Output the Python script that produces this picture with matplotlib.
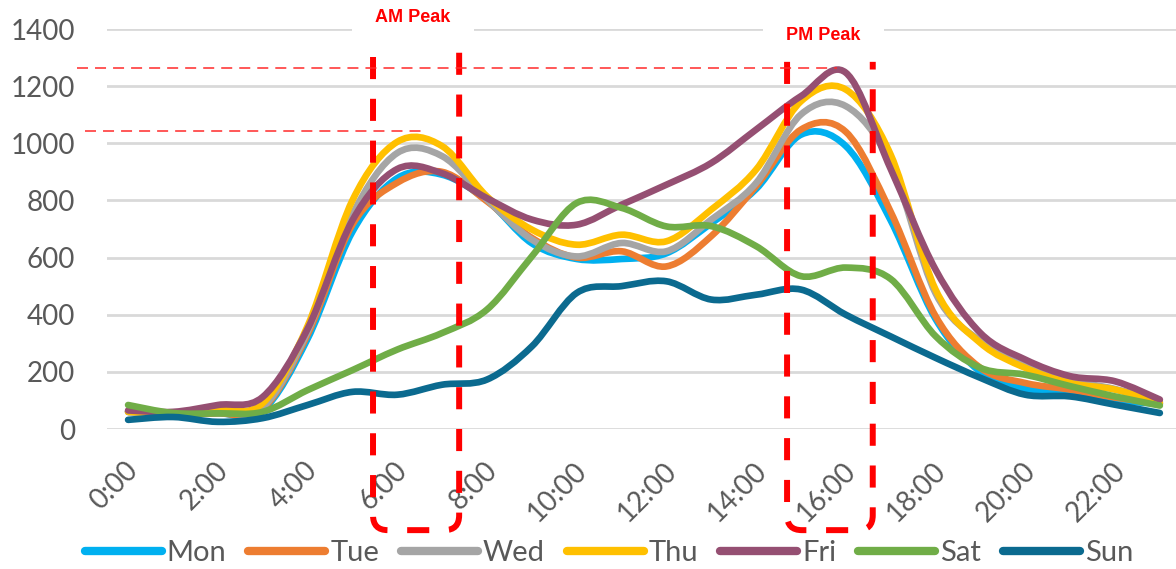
import matplotlib
matplotlib.use('Agg')
import matplotlib.pyplot as plt
from matplotlib.path import Path
from matplotlib.patches import PathPatch
from matplotlib.lines import Line2D
from matplotlib.transforms import ScaledTranslation

plt.rcParams['font.family'] = ['Lato', 'DejaVu Sans']

# hourly counts
hours = list(range(24))
tick_hours = list(range(0, 24, 2))
tick_labels = ['%d:00' % h for h in tick_hours]

mon = [60, 55, 55, 65, 315, 690, 878, 890, 800, 650, 595, 595, 615, 720, 840, 1030, 990, 730, 385, 200, 140, 125, 100, 88]
tue = [60, 55, 55, 70, 330, 715, 862, 900, 797, 669, 600, 622, 569, 675, 850, 1048, 1040, 760, 395, 214, 161, 138, 110, 90]
wed = [60, 55, 60, 75, 340, 750, 966, 955, 803, 663, 604, 651, 622, 733, 861, 1101, 1130, 930, 475, 307, 220, 170, 140, 95]
thu = [60, 55, 67, 90, 360, 800, 1005, 990, 814, 698, 645, 680, 657, 768, 908, 1147, 1188, 960, 488, 301, 214, 161, 138, 91]
fri = [65, 60, 84, 112, 350, 730, 910, 895, 808, 733, 715, 785, 855, 931, 1048, 1165, 1247, 910, 558, 336, 243, 185, 167, 103]
sat = [84, 56, 55, 60, 136, 206, 278, 336, 418, 604, 791, 774, 709, 710, 640, 535, 565, 525, 325, 214, 190, 150, 114, 82]
sun = [32, 42, 25, 38, 84, 130, 120, 155, 173, 289, 476, 500, 517, 453, 470, 488, 400, 324, 249, 179, 120, 114, 85, 56]

days = ['Mon', 'Tue', 'Wed', 'Thu', 'Fri', 'Sat', 'Sun']
series = [mon, tue, wed, thu, fri, sat, sun]
colors = ['#00B0F0', '#ED7D31', '#A5A5A5', '#FFC000', '#954F72', '#70AD47', '#0B6A8F']

# peak markers (annotation geometry, data units)
am_box = (5.46, 7.38, 1302, 1337)   # x left, x right, top left, top right
pm_box = (14.69, 16.60, 1285, 1285)
box_bottom = -354
peak_refs = [(1263, -1.14, 15.80), (1043, -0.96, 6.62)]


def smooth_path(x, y):
    # excel-like smoothed line: catmull-rom segments as cubic beziers
    n = len(x)
    verts = [(x[0], y[0])]
    codes = [Path.MOVETO]
    for i in range(n - 1):
        i0 = max(i - 1, 0)
        i3 = min(i + 2, n - 1)
        c1 = (x[i] + (x[i + 1] - x[i0]) / 6, y[i] + (y[i + 1] - y[i0]) / 6)
        c2 = (x[i + 1] - (x[i3] - x[i]) / 6, y[i + 1] - (y[i3] - y[i]) / 6)
        verts += [c1, c2, (x[i + 1], y[i + 1])]
        codes += [Path.CURVE4] * 3
    return Path(verts, codes)


def bracket_path(xl, xr, top_l, top_r, bottom, rx=0.33, ry=52):
    verts = [(xl, top_l), (xl, bottom + ry), (xl, bottom), (xl + rx, bottom),
             (xr - rx, bottom), (xr, bottom), (xr, bottom + ry), (xr, top_r)]
    codes = [Path.MOVETO, Path.LINETO, Path.CURVE3, Path.CURVE3,
             Path.LINETO, Path.CURVE3, Path.CURVE3, Path.LINETO]
    return Path(verts, codes)


fig = plt.figure(figsize=(11.76, 5.69), dpi=100)
ax = fig.add_axes([107 / 1176, 140 / 569, 1069 / 1176, 400 / 569])

for vals, c in zip(series, colors):
    ax.add_patch(PathPatch(smooth_path(hours, vals), fill=False, edgecolor=c,
                           lw=4.8, capstyle='round', joinstyle='round', zorder=3))

ax.set_xlim(-0.47, 23.36)
ax.set_ylim(0, 1400)
ax.set_yticks(range(0, 1401, 200))
ax.set_xticks(tick_hours)
ax.set_xticklabels(tick_labels, rotation=45, ha='right', va='center', rotation_mode='anchor')
ax.tick_params(axis='x', length=0, pad=27, labelsize=20, labelcolor='#595959')
ax.tick_params(axis='y', length=0, pad=23, labelsize=20, labelcolor='#595959')
shift = ScaledTranslation(6 / 100, 0, fig.dpi_scale_trans)
for lbl in ax.get_xticklabels():
    lbl.set_transform(lbl.get_transform() + shift)
ax.set_axisbelow(True)
ax.grid(axis='y', color='#D9D9D9', lw=2)
ax.grid(axis='x', visible=False)
for s in ax.spines.values():
    s.set_visible(False)

# AM / PM peak frames
for xl, xr, tl, tr in [am_box, pm_box]:
    ax.add_patch(PathPatch(bracket_path(xl, xr, tl, tr, box_bottom), fill=False,
                           edgecolor='#FF0000', lw=4.3, linestyle=(0, (3.7, 3.3)),
                           clip_on=False, zorder=10))
for yv, x0, x1 in peak_refs:
    ax.plot([x0, x1], [yv, yv], color='#FF2A2A', lw=1.1, linestyle=(0, (7.2, 4.6)),
            clip_on=False, zorder=10)

box = dict(boxstyle='square,pad=1.3', fc='white', ec='none')
ax.text(6.35, 1442, 'AM Peak', color='#FF0000', fontsize=13, fontweight='bold',
        family=['Liberation Sans'], ha='center', va='center', bbox=box, clip_on=False, zorder=2.5)
ax.text(15.5, 1379, 'PM Peak', color='#FF0000', fontsize=13, fontweight='bold',
        family=['Liberation Sans'], ha='center', va='center', bbox=box, clip_on=False, zorder=2.5)

handles = [Line2D([], [], color=c, lw=6, solid_capstyle='round') for c in colors]
leg = fig.legend(handles, days, loc='center', bbox_to_anchor=(609 / 1176, 1 - 553 / 569),
                 ncol=7, frameon=False, fontsize=21, handlelength=2.64, handletextpad=0.17,
                 columnspacing=0.75, borderpad=0, borderaxespad=0)
for t in leg.get_texts():
    t.set_color('#595959')

fig.savefig('out.png', dpi=100)
